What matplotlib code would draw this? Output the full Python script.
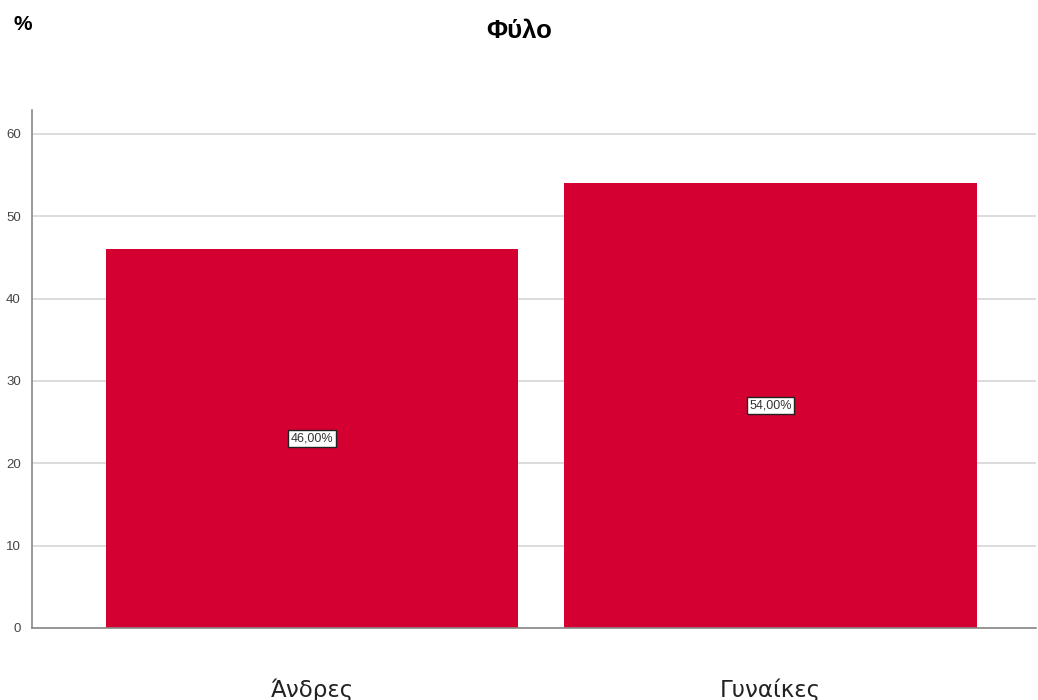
import matplotlib.pyplot as plt
import numpy as np

categories = ["Άνδρες", "Γυναίκες"]
percent = [46.0, 54.0]
y_ticks = [0, 10, 20, 30, 40, 50, 60]

plt.rcParams['font.family'] = ['Liberation Sans', 'DejaVu Sans']

fig = plt.figure(figsize=(10.38, 7.0), dpi=100)
ax = fig.add_axes([32 / 1038, 1 - 628 / 700, 1004 / 1038, (628 - 110) / 700])

x = np.arange(len(categories))
ax.bar(x, percent, width=0.9, color='#d50032', zorder=2)

for xi, v in zip(x, percent):
    label = f"{v:.2f}%".replace('.', ',')
    ax.text(xi, v / 2, label, ha='center', va='center', fontsize=9, color='#333333',
            bbox=dict(boxstyle='square,pad=0.2', fc='white', ec='#222222', lw=1.0), zorder=3)

ax.set_xlim(-0.611, 1.579)
ax.set_ylim(0, 62.9)
ax.set_yticks(y_ticks)
ax.set_xticks(x)
ax.set_xticklabels(categories, fontsize=16.5, family=['DejaVu Sans'], color='#222222')
ax.tick_params(axis='x', length=0, pad=36)
ax.tick_params(axis='y', length=0, pad=8, labelsize=9.5, labelcolor='#444444')
ax.yaxis.grid(True, color='#d6d6d6', lw=1.2, zorder=0)
ax.set_axisbelow(True)

for s in ['top', 'right']:
    ax.spines[s].set_visible(False)
for s in ['left', 'bottom']:
    ax.spines[s].set_color('#888888')
    ax.spines[s].set_linewidth(1.2)

fig.text(519 / 1038, 1 - 31 / 700, "Φύλο", ha='center', va='center', fontsize=18.5, fontweight='bold')
fig.text(13 / 1038, 1 - 25 / 700, "%", ha='left', va='center', fontsize=15, fontweight='bold')

fig.savefig("out.png", dpi=100)
